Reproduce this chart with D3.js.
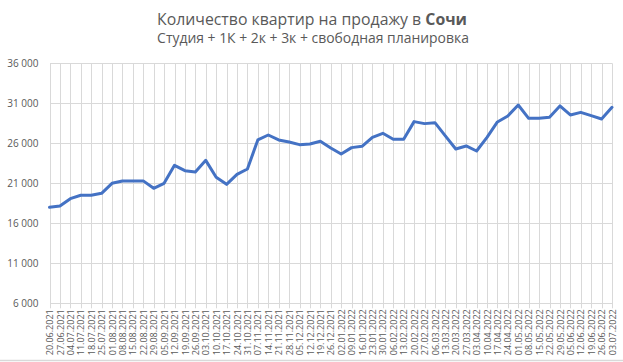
<!DOCTYPE html>
<html><head><meta charset="utf-8">
<script src="https://cdn.jsdelivr.net/npm/d3@7"></script>
<style>body{margin:0;background:#fff}svg{display:block}</style>
</head><body><svg id="c" width="623" height="362"></svg>
<script>
const dates = ["20.06.2021","27.06.2021","04.07.2021","11.07.2021","18.07.2021","25.07.2021","01.08.2021","08.08.2021","15.08.2021","22.08.2021","29.08.2021","05.09.2021","12.09.2021","19.09.2021","26.09.2021","03.10.2021","10.10.2021","17.10.2021","24.10.2021","31.10.2021","07.11.2021","14.11.2021","21.11.2021","28.11.2021","05.12.2021","12.12.2021","19.12.2021","26.12.2021","02.01.2022","09.01.2022","16.01.2022","23.01.2022","30.01.2022","06.02.2022","13.02.2022","20.02.2022","27.02.2022","06.03.2022","13.03.2022","20.03.2022","27.03.2022","03.04.2022","10.04.2022","17.04.2022","24.04.2022","01.05.2022","08.05.2022","15.05.2022","22.05.2022","29.05.2022","05.06.2022","12.06.2022","19.06.2022","26.06.2022","03.07.2022"];
const values = [18000,18160,19080,19500,19500,19750,21000,21290,21290,21300,20370,21000,23250,22580,22420,23870,21750,20870,22120,22790,26420,27040,26420,26170,25830,25920,26250,25420,24670,25460,25620,26750,27250,26500,26500,28710,28460,28580,26920,25290,25670,25040,26750,28670,29420,30790,29120,29120,29250,30670,29540,29870,29460,29040,30500];
const yTicks = [6000,11000,16000,21000,26000,31000,36000];
const titleMain = "Количество квартир на продажу в ";
const titleBold = "Сочи";
const subtitle = "Студия + 1К + 2к + 3к + свободная планировка";

const svg = d3.select("#c");
const font = "'Open Sans', 'Noto Sans', sans-serif";
const txt = "#595959", grid = "#d9d9d9";
const L = 49.5, R = 612, T = 63.3, B = 303.3;

const x = d3.scalePoint().domain(dates).range([L, R]);
const y = d3.scaleLinear().domain([6000, 36000]).range([B, T]);

// bottom border line
svg.append("line").attr("x1",0).attr("x2",623).attr("y1",360.5).attr("y2",360.5).attr("stroke",grid).attr("stroke-width",1.5);

// horizontal gridlines + y labels
const yAxis = d3.axisLeft(y).tickValues(yTicks).tickSize(-(R - L)).tickPadding(11)
  .tickFormat(d => d3.format(",")(d).replace(/,/g, " "));
const gy = svg.append("g").attr("transform", `translate(${L},0)`).call(yAxis);
gy.select(".domain").remove();
gy.selectAll(".tick line").attr("stroke", grid).attr("stroke-width", 1).attr("shape-rendering","crispEdges");
gy.selectAll(".tick text").attr("fill", txt).style("font-family", font).style("font-size", "10px");

// vertical gridlines
svg.append("g").selectAll("line").data(dates).join("line")
  .attr("x1", d => Math.round(x(d)) + 0.5).attr("x2", d => Math.round(x(d)) + 0.5)
  .attr("y1", T).attr("y2", B + 5)
  .attr("stroke", grid).attr("stroke-width", 1);

// x labels
const xAxis = d3.axisBottom(x).tickSize(0).tickPadding(0);
const gx = svg.append("g").attr("transform", `translate(0,${B})`).call(xAxis);
gx.select(".domain").remove();
gx.selectAll(".tick text")
  .attr("fill", txt).style("font-family", font).style("font-size", "9px")
  .attr("transform", "rotate(-90)").attr("text-anchor", "end")
  .attr("x", -6).attr("y", 0).attr("dy", "0.35em");

// line
svg.append("path").datum(values)
  .attr("fill", "none").attr("stroke", "#4472C4").attr("stroke-width", 3)
  .attr("stroke-linejoin", "round").attr("stroke-linecap", "round")
  .attr("d", d3.line().x((d, i) => x(dates[i])).y(d => y(d)));

// titles
const t = svg.append("text").attr("x", 312).attr("y", 25).attr("text-anchor", "middle")
  .attr("fill", txt).style("font-family", font).style("font-size", "16px");
t.append("tspan").text(titleMain);
t.append("tspan").attr("font-weight", "bold").text(titleBold);
function fit(el, w) {
  const cur = el.node().getComputedTextLength();
  const fs = parseFloat(el.style("font-size"));
  el.style("font-size", (fs * w / cur).toFixed(2) + "px");
}
fit(t, 310);
const s = svg.append("text").attr("x", 313).attr("y", 43).attr("text-anchor", "middle")
  .attr("fill", txt).style("font-family", font).style("font-size", "12px").text(subtitle);
fit(s, 312);
</script></body></html>
